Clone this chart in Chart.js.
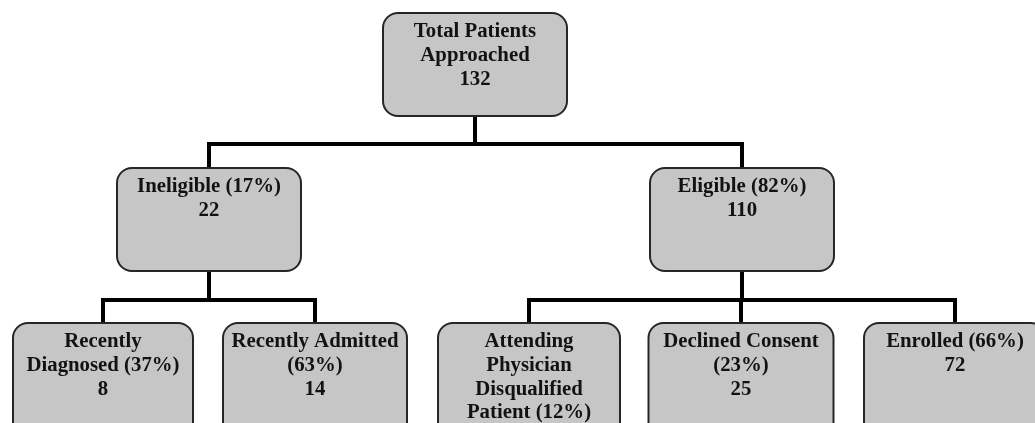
<!DOCTYPE html>
<html>
<head>
<meta charset="utf-8">
<script src="https://cdn.jsdelivr.net/npm/chart.js@4.4.1/dist/chart.umd.min.js"></script>
<style>
  html, body { margin: 0; padding: 0; background: #ffffff; }
  #wrap { width: 1035px; height: 423px; }
</style>
</head>
<body>
<div id="wrap"><canvas id="c" width="1035" height="423"></canvas></div>
<script>
// ---- data ----
const nodeLabels = [
  "Total Patients\nApproached",
  "Ineligible (17%)",
  "Eligible (82%)",
  "Recently\nDiagnosed (37%)",
  "Recently Admitted\n(63%)",
  "Attending\nPhysician\nDisqualified\nPatient (12%)",
  "Declined Consent\n(23%)",
  "Enrolled (66%)"
];
const nodeCounts = [132, 22, 110, 8, 14, 13, 25, 72];
const nodeParents = [null, 0, 0, 1, 1, 2, 2, 2];
const nodeLevels = [0, 1, 1, 2, 2, 2, 2, 2];

// ---- layout (diagram coordinates, in scale units) ----
const layoutCenterX = [475, 209, 742, 103, 315, 529, 741, 955];
const layoutWidth   = [184, 184, 184, 180, 184, 182, 185, 182];
const levelTop      = [13, 168, 323];
const levelBottom   = [116, 271, 445];
const busY          = [144, 300];

// connectors built from the tree
const connectorSets = [];
nodeParents.forEach((p, i) => {
  if (p === null) return;
  const lv = nodeLevels[p];
  connectorSets.push({
    data: [
      {x: layoutCenterX[p], y: levelBottom[lv] - 2},
      {x: layoutCenterX[p], y: busY[lv]},
      {x: layoutCenterX[i], y: busY[lv]},
      {x: layoutCenterX[i], y: levelTop[nodeLevels[i]] + 2}
    ],
    borderColor: '#000000',
    borderWidth: 4,
    pointRadius: 0,
    tension: 0,
    fill: false,
    borderJoinStyle: 'miter',
    borderCapStyle: 'butt'
  });
});

const boxPlugin = {
  id: 'boxes',
  afterDatasetsDraw(chart) {
    const ctx = chart.ctx;
    const xs = chart.scales.x, ys = chart.scales.y;
    ctx.save();
    nodeLabels.forEach((lab, i) => {
      const lv = nodeLevels[i];
      const x1 = xs.getPixelForValue(layoutCenterX[i] - layoutWidth[i] / 2);
      const x2 = xs.getPixelForValue(layoutCenterX[i] + layoutWidth[i] / 2);
      const y1 = ys.getPixelForValue(levelTop[lv]);
      const y2 = ys.getPixelForValue(levelBottom[lv]);
      ctx.beginPath();
      ctx.roundRect(x1, y1, x2 - x1, y2 - y1, 15);
      ctx.fillStyle = '#c6c6c6';
      ctx.fill();
      ctx.lineWidth = 2;
      ctx.strokeStyle = '#262626';
      ctx.stroke();

      const lines = lab.split('\n').concat([String(nodeCounts[i])]);
      ctx.fillStyle = '#121212';
      ctx.font = 'bold 20.8px "Liberation Serif", "Times New Roman", serif';
      ctx.textAlign = 'center';
      ctx.textBaseline = 'middle';
      const cx = xs.getPixelForValue(layoutCenterX[i]);
      lines.forEach((t, k) => {
        ctx.fillText(t, cx, y1 + 19 + k * 23.6);
      });
    });
    ctx.restore();
  }
};

new Chart(document.getElementById('c'), {
  type: 'line',
  data: { datasets: connectorSets },
  options: {
    responsive: false,
    devicePixelRatio: 1,
    animation: false,
    layout: { padding: 0 },
    plugins: { legend: { display: false }, tooltip: { enabled: false } },
    scales: {
      x: { type: 'linear', min: 0, max: 1035, display: false },
      y: { type: 'linear', min: 0, max: 423, reverse: true, display: false }
    }
  },
  plugins: [boxPlugin]
});
</script>
</body>
</html>
